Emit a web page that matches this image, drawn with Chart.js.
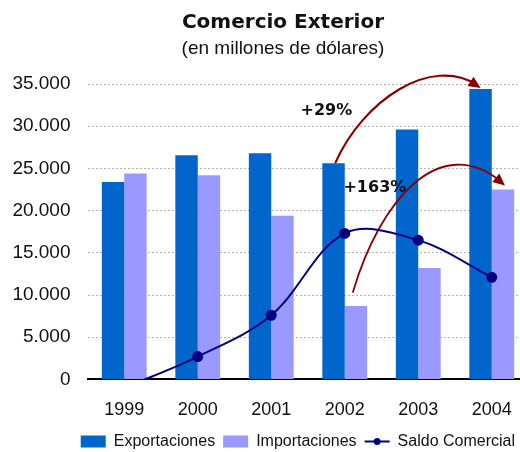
<!DOCTYPE html>
<html>
<head>
<meta charset="utf-8">
<script src="https://cdn.jsdelivr.net/npm/chart.js@4/dist/chart.umd.min.js"></script>
<style>
  html, body { margin: 0; padding: 0; background: #fff; overflow: hidden; }
  #marco { width: 520px; height: 452px; overflow: hidden; }
</style>
</head>
<body>
<div id="marco"><canvas id="comercioChart" width="535" height="452"></canvas></div>
<script>
// Datos (millones de dólares)
var anios = ['1999', '2000', '2001', '2002', '2003', '2004'];
var exportaciones = [23400, 26550, 26800, 25600, 29600, 34400];
var importaciones = [24400, 24200, 19400, 8700, 13200, 22500];
var saldoComercial = [-1000, 2700, 7600, 17300, 16500, 12100];
var ejeY = [0, 5000, 10000, 15000, 20000, 25000, 30000, 35000];

// Notas con flecha: texto, serie, desde / hasta (índice de año), posición del texto (índice, valor)
var notaTextos = ['+29%', '+163%'];
var notaSerie = [0, 1];
var notaDesde = [3, 3];
var notaHasta = [5, 5];
var notaTextoX = [2.75, 3.41];
var notaTextoY = [31800, 22700];

var fuente = "'Liberation Sans', Arial, sans-serif";

function formatoMiles(v) {
  return String(v).replace(/\B(?=(\d{3})+(?!\d))/g, '.');
}

// Título y subtítulo
var tituloPlugin = {
  id: 'titulo',
  afterDraw: function(chart) {
    var ctx = chart.ctx;
    ctx.save();
    ctx.fillStyle = '#111';
    ctx.textAlign = 'center';
    ctx.textBaseline = 'alphabetic';
    ctx.font = "bold 20px 'DejaVu Sans', Verdana, sans-serif";
    ctx.fillText('Comercio Exterior', 283, 28);
    ctx.font = '19px ' + fuente;
    ctx.fillText('(en millones de dólares)', 283, 54);
    ctx.restore();
  }
};

function punta(ctx, p2, p3, color) {
  var ang = Math.atan2(p3.y - p2.y, p3.x - p2.x);
  var largo = 12, ancho = 5.5;
  ctx.save();
  ctx.fillStyle = color;
  ctx.beginPath();
  ctx.moveTo(p3.x, p3.y);
  ctx.lineTo(p3.x - largo * Math.cos(ang) + ancho * Math.sin(ang), p3.y - largo * Math.sin(ang) - ancho * Math.cos(ang));
  ctx.lineTo(p3.x - largo * Math.cos(ang) - ancho * Math.sin(ang), p3.y - largo * Math.sin(ang) + ancho * Math.cos(ang));
  ctx.closePath();
  ctx.fill();
  ctx.restore();
}

// Flechas curvas +29% / +163% (entre las barras y la línea)
var flechasPlugin = {
  id: 'flechas',
  beforeDatasetDraw: function(chart, args) {
    if (args.index !== 2) return;
    var ctx = chart.ctx;
    var x = chart.scales.x, y = chart.scales.y;
    var color = '#8b0000';
    // desplazamientos de inicio/fin y puntos de control de cada curva
    var ini = [[2, -1], [-3, -14]];
    var fin = [[0, -1], [2, -4]];
    var c1 = [[28, -62], [27, -92]];
    var c2 = [[-50, -33], [-65, -55]];
    var grosor = [2.2, 1.8];
    for (var i = 0; i < notaTextos.length; i++) {
      var meta = chart.getDatasetMeta(notaSerie[i]);
      var a = meta.data[notaDesde[i]], b = meta.data[notaHasta[i]];
      var p0 = { x: a.x + ini[i][0], y: a.y + ini[i][1] };
      var p3 = { x: b.x + fin[i][0], y: b.y + fin[i][1] };
      var p1 = { x: p0.x + c1[i][0], y: p0.y + c1[i][1] };
      var p2 = { x: p3.x + c2[i][0], y: p3.y + c2[i][1] };
      ctx.save();
      ctx.strokeStyle = color;
      ctx.lineWidth = grosor[i];
      ctx.lineCap = 'round';
      ctx.beginPath();
      ctx.moveTo(p0.x, p0.y);
      ctx.bezierCurveTo(p1.x, p1.y, p2.x, p2.y, p3.x - 3, p3.y - 3);
      ctx.stroke();
      ctx.restore();
      punta(ctx, p2, p3, color);

      ctx.save();
      ctx.fillStyle = '#111';
      ctx.font = "bold 16px 'DejaVu Sans', Verdana, sans-serif";
      ctx.textAlign = 'center';
      ctx.textBaseline = 'middle';
      ctx.fillText(notaTextos[i], x.getPixelForValue(notaTextoX[i]), y.getPixelForValue(notaTextoY[i]));
      ctx.restore();
    }
  }
};

// Leyenda: termina dentro de la ventana visible y punto sobre la línea de Saldo Comercial
var leyendaPlugin = {
  id: 'leyendaAjuste',
  afterLayout: function(chart) {
    var lg = chart.legend;
    if (!lg) return;
    var d = lg.right - 523;
    lg.right -= d;
    lg.left -= d;
  },
  afterDraw: function(chart) {
    var lg = chart.legend;
    if (!lg || !lg.legendHitBoxes || !lg.legendHitBoxes[2]) return;
    var hb = lg.legendHitBoxes[2];
    var ctx = chart.ctx;
    ctx.save();
    ctx.fillStyle = '#000080';
    ctx.beginPath();
    ctx.arc(hb.left + 25 / 2, hb.top + hb.height / 2, 3.5, 0, Math.PI * 2);
    ctx.fill();
    ctx.restore();
  }
};

var ctx = document.getElementById('comercioChart');
var chart = new Chart(ctx, {
  data: {
    labels: anios,
    datasets: [{
      type: 'bar',
      label: 'Exportaciones',
      data: exportaciones,
      backgroundColor: '#0066cc',
      borderWidth: 0,
      order: 2
    }, {
      type: 'bar',
      label: 'Importaciones',
      data: importaciones,
      backgroundColor: '#9999ff',
      borderWidth: 0,
      order: 2
    }, {
      type: 'line',
      label: 'Saldo Comercial',
      data: saldoComercial,
      borderColor: '#000080',
      backgroundColor: '#000080',
      pointBackgroundColor: '#000080',
      pointBorderColor: '#000080',
      pointRadius: 4.5,
      borderWidth: 2,
      tension: 0.35,
      order: 1
    }]
  },
  options: {
    responsive: false,
    animation: false,
    devicePixelRatio: 1,
    layout: { padding: { top: 84, left: 0, right: 0, bottom: -7.5 } },
    datasets: {
      bar: { categoryPercentage: 0.61, barPercentage: 1.0 }
    },
    plugins: {
      title: { display: false },
      tooltip: { enabled: false },
      legend: {
        position: 'bottom',
        align: 'end',
        labels: {
          usePointStyle: true,
          pointStyleWidth: 25,
          boxHeight: 12,
          padding: 8,
          color: '#111',
          font: { family: fuente, size: 16 },
          sort: function(a, b) { return a.datasetIndex - b.datasetIndex; },
          generateLabels: function(chart) {
            var items = Chart.defaults.plugins.legend.labels.generateLabels(chart);
            items.forEach(function(it) {
              it.pointStyle = it.datasetIndex === 2 ? 'line' : 'rect';
            });
            return items;
          }
        }
      }
    },
    scales: {
      x: {
        grid: { display: false, drawTicks: false },
        border: { display: true, color: '#000', width: 2 },
        ticks: { color: '#111', padding: 20, font: { family: fuente, size: 18 } },
        afterFit: function(axis) {
          axis.height -= 15.5;
          axis.paddingLeft = 0;
          axis.paddingRight = 0;
        }
      },
      y: {
        min: ejeY[0],
        max: ejeY[ejeY.length - 1],
        afterBuildTicks: function(axis) {
          axis.ticks = ejeY.map(function(v) { return { value: v }; });
        },
        afterFit: function(axis) { axis.width = 87.5; },
        grid: { color: '#b4b4b4', lineWidth: 1, drawTicks: false },
        border: { display: false, dash: [2, 2] },
        ticks: {
          color: '#111',
          padding: 17,
          font: { family: fuente, size: 19 },
          callback: function(v) { return formatoMiles(v); }
        }
      }
    }
  },
  plugins: [tituloPlugin, flechasPlugin, leyendaPlugin]
});
</script>
</body>
</html>
